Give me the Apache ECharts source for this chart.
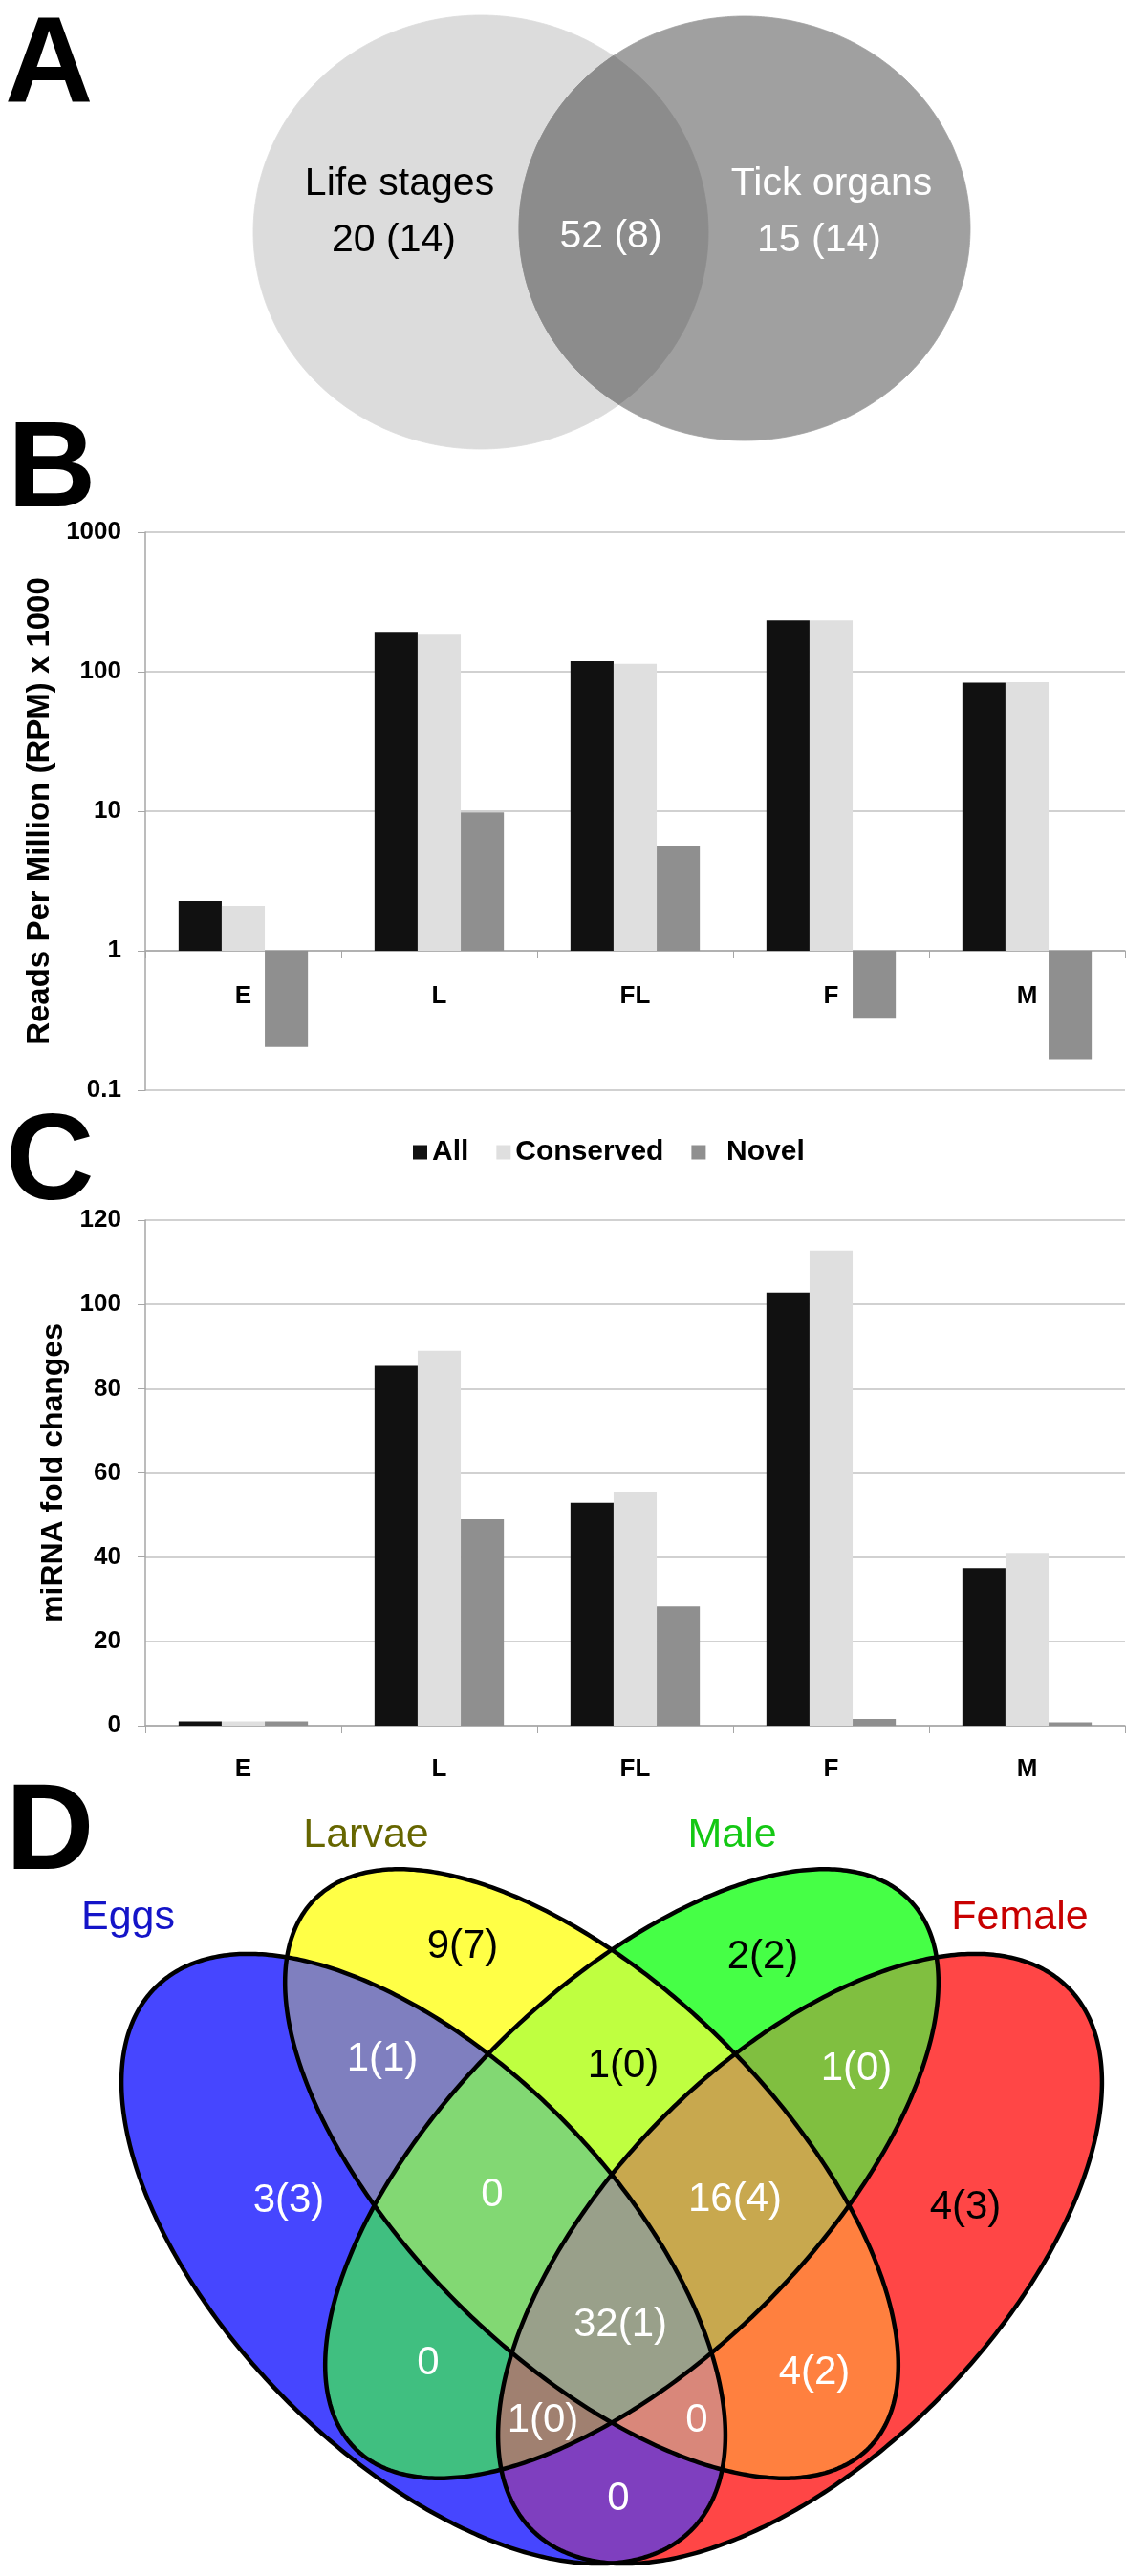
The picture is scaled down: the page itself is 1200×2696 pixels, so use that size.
<!DOCTYPE html>
<html><head><meta charset="utf-8">
<script src="https://cdn.jsdelivr.net/npm/echarts@6/dist/echarts.min.js"></script>
<style>html,body{margin:0;padding:0;background:#fff}#c{width:1200px;height:2696px}</style>
</head><body><div id="c"></div>
<script>
const FONT = '"Liberation Sans", Arial, Helvetica, sans-serif';

// ---------- Panel B / C data ----------
const stages = ['E', 'L', 'FL', 'F', 'M'];
const seriesNames = ['All', 'Conserved', 'Novel'];
const rpmAll = [2.27, 193, 119, 233, 83.5];
const rpmConserved = [2.10, 184, 114, 233, 84];
const rpmNovel = [0.204, 9.8, 5.67, 0.33, 0.167];
const foldAll = [1, 85.4, 52.9, 102.8, 37.4];
const foldConserved = [1, 89, 55.4, 112.8, 41];
const foldNovel = [1, 49, 28.3, 1.6, 0.8];
const rpmRange = [0.1, 1000];
const foldRange = [0, 120];
const foldStep = 20;

// ---------- Panel A (2-set Venn) ----------
// ellipses: [cx, cy, rx, ry, angleDeg] in venn units
const vennAEllipses = [[5.03, 2.57, 2.38, 2.27, 0], [7.79, 2.61, 2.36, 2.22, 0]];
const vennATexts = ['Life stages', '20 (14)', '52 (8)', 'Tick organs', '15 (14)'];
const vennATextX = [4.18, 4.12, 6.39, 8.70, 8.57];
const vennATextY = [3.07, 2.48, 2.52, 3.07, 2.48];

// ---------- Panel D (4-set Venn) ----------
const vennDSets = ['Eggs', 'Larvae', 'Male', 'Female'];
const vennDSetX = [1.34, 3.83, 7.66, 10.67];
const vennDSetY = [6.89, 7.75, 7.75, 6.89];
// ellipses: [cx, cy, semi-major, semi-minor, angleDeg]
const vennDEllipses = [
  [4.43, 3.32, 3.99, 2.06, 134.5],
  [6.19, 4.21, 4.08, 1.95, 135.3],
  [6.61, 4.21, 4.08, 1.95, 44.7],
  [8.37, 3.32, 3.99, 2.06, 45.5]
];
// regions indexed by membership mask - 1 (bit0 Eggs, bit1 Larvae, bit2 Male, bit3 Female)
const vennDCounts = ['3(3)', '9(7)', '1(1)', '2(2)', '0', '1(0)', '0', '4(3)', '0', '4(2)', '0', '1(0)', '1(0)', '16(4)', '32(1)'];
const vennDCountX = [3.02, 4.84, 4.00, 7.98, 4.48, 6.52, 5.15, 10.10, 6.47, 8.52, 7.29, 8.96, 5.68, 7.69, 6.49];
const vennDCountY = [3.93, 6.59, 5.41, 6.48, 2.23, 5.34, 3.99, 3.86, 0.81, 2.13, 1.63, 5.31, 1.63, 3.94, 2.63];

// ---------- styles ----------
const barColors = ['#111111', '#dfdfdf', '#8f8f8f'];
const vennAFill = ['#dcdcdc', '#a0a0a0', '#8c8c8c'];
const vennATextColor = ['#000', '#000', '#fff', '#fff', '#fff'];
const vennDSetColors = ['#1414c8', '#666600', '#14c814', '#c80000'];
const vennDFill = ['#4646ff', '#ffff46', '#7f7fbf', '#46ff46', '#40bf80', '#bfff40', '#82d873',
  '#ff4646', '#7f3fbf', '#ff803f', '#d9877a', '#80bf40', '#a08070', '#c8a84e', '#99a08a'];
const vennDTextColor = ['#fff', '#000', '#fff', '#000', '#fff', '#000', '#fff', '#000',
  '#fff', '#fff', '#fff', '#fff', '#fff', '#fff', '#fff'];

// ---------- geometry helpers ----------
function ellipsePts(e, n) {
  const th = e[4] * Math.PI / 180, c = Math.cos(th), s = Math.sin(th);
  const pts = [];
  for (let i = 0; i < n; i++) {
    const t = 2 * Math.PI * i / n;
    const x = e[2] * Math.cos(t), y = e[3] * Math.sin(t);
    pts.push([e[0] + x * c - y * s, e[1] + x * s + y * c]);
  }
  return pts;
}
function clipConvex(subject, clipPoly) {
  let out = subject;
  for (let i = 0; i < clipPoly.length && out.length; i++) {
    const A = clipPoly[i], B = clipPoly[(i + 1) % clipPoly.length];
    const inp = out; out = [];
    const side = p => (B[0] - A[0]) * (p[1] - A[1]) - (B[1] - A[1]) * (p[0] - A[0]);
    for (let j = 0; j < inp.length; j++) {
      const P = inp[j], Q = inp[(j + 1) % inp.length];
      const sp = side(P), sq = side(Q);
      if (sp >= 0) out.push(P);
      if ((sp >= 0) !== (sq >= 0)) {
        const t = sp / (sp - sq);
        out.push([P[0] + t * (Q[0] - P[0]), P[1] + t * (Q[1] - P[1])]);
      }
    }
  }
  return out;
}
function intersectionOf(ellPolys, mask) {
  let poly = null;
  ellPolys.forEach((p, i) => {
    if (mask & (1 << i)) poly = poly ? clipConvex(poly, p) : p;
  });
  return poly || [];
}
function bitCount(m) { let c = 0; while (m) { c += m & 1; m >>= 1; } return c; }

const N = 480;
const aPolys = vennAEllipses.map(e => ellipsePts(e, N));
const aRegionMasks = [1, 2, 3];
const aRegionPolys = aRegionMasks.map(m => intersectionOf(aPolys, m));

const dPolys = vennDEllipses.map(e => ellipsePts(e, N));
const dMasks = [];
for (let m = 1; m < 16; m++) dMasks.push(m);
dMasks.sort((a, b) => bitCount(a) - bitCount(b) || a - b);
const dRegionPolys = {};
dMasks.forEach(m => { dRegionPolys[m] = intersectionOf(dPolys, m); });

// ---------- chart ----------
const chart = echarts.init(document.getElementById('c'), null, { renderer: 'canvas', width: 1200, height: 2696 });

const axisGray = '#a6a6a6';
const gridGray = '#c2c2c2';
const tickFont = { fontFamily: FONT, fontWeight: 'bold', fontSize: 26, color: '#000' };

function barSeries(name, data, color, idx) {
  return {
    type: 'bar', name, data, xAxisIndex: idx, yAxisIndex: idx,
    barGap: '0%', barCategoryGap: '34%', itemStyle: { color }, animation: false
  };
}

const option = {
  animation: false,
  backgroundColor: '#fff',
  textStyle: { fontFamily: FONT },
  grid: [
    { left: 0, top: 0, width: 1200, height: 500, containLabel: false, outerBoundsMode: 'none' },
    { left: 152, top: 557, width: 1025, height: 584, containLabel: false, outerBoundsMode: 'none' },
    { left: 152, top: 1277, width: 1025, height: 529, containLabel: false, outerBoundsMode: 'none' },
    { left: 0, top: 1880, width: 1200, height: 816, containLabel: false, outerBoundsMode: 'none' }
  ],
  legend: {
    data: seriesNames,
    left: 432, top: 1191, padding: 0,
    itemWidth: 15, itemHeight: 15, itemGap: 29, icon: 'rect',
    formatter: n => (n === 'Novel' ? '  ' + n : n),
    textStyle: { fontFamily: FONT, fontWeight: 'bold', fontSize: 30, color: '#000' }
  },
  xAxis: [
    { type: 'value', gridIndex: 0, min: 0, max: 12, show: false },
    {
      type: 'category', gridIndex: 1, data: stages, position: 'bottom', offset: -146,
      axisLine: { show: true, lineStyle: { color: axisGray, width: 1.5 } },
      axisTick: { show: true, length: 8, lineStyle: { color: axisGray } },
      axisLabel: Object.assign({ margin: 35 }, tickFont),
      splitLine: { show: false }
    },
    {
      type: 'category', gridIndex: 2, data: stages, position: 'bottom',
      axisLine: { show: true, lineStyle: { color: axisGray, width: 1.5 } },
      axisTick: { show: true, length: 8, lineStyle: { color: axisGray } },
      axisLabel: Object.assign({ margin: 33 }, tickFont),
      splitLine: { show: false }
    },
    { type: 'value', gridIndex: 3, min: 0, max: 12, show: false }
  ],
  yAxis: [
    { type: 'value', gridIndex: 0, min: 0, max: 5, show: false },
    {
      type: 'log', logBase: 10, gridIndex: 1, min: rpmRange[0], max: rpmRange[1],
      name: 'Reads Per Million (RPM) x 1000', nameLocation: 'middle', nameGap: 92,
      nameTextStyle: { fontFamily: FONT, fontWeight: 'bold', fontSize: 33, color: '#000' },
      axisLine: { show: true, lineStyle: { color: axisGray, width: 1.5 } },
      axisTick: { show: true, length: 8, lineStyle: { color: axisGray } },
      axisLabel: Object.assign({ margin: 25, formatter: v => String(+(+v).toPrecision(4)) }, tickFont),
      splitLine: { show: true, lineStyle: { color: gridGray, width: 1.5 } }
    },
    {
      type: 'value', gridIndex: 2, min: foldRange[0], max: foldRange[1], interval: foldStep,
      name: 'miRNA fold changes', nameLocation: 'middle', nameGap: 80,
      nameTextStyle: { fontFamily: FONT, fontWeight: 'bold', fontSize: 32, color: '#000' },
      axisLine: { show: true, lineStyle: { color: axisGray, width: 1.5 } },
      axisTick: { show: true, length: 8, lineStyle: { color: axisGray } },
      axisLabel: Object.assign({ margin: 25 }, tickFont),
      splitLine: { show: true, lineStyle: { color: gridGray, width: 1.5 } }
    },
    { type: 'value', gridIndex: 3, min: 0, max: 8.16, show: false }
  ],
  graphic: [
    { type: 'text', x: 5, y: 72, style: { text: 'A', font: 'bold 128px ' + FONT, fill: '#000', align: 'left', verticalAlign: 'middle' } },
    { type: 'text', x: 8, y: 495, style: { text: 'B', font: 'bold 128px ' + FONT, fill: '#000', align: 'left', verticalAlign: 'middle' } },
    { type: 'text', x: 6, y: 1220, style: { text: 'C', font: 'bold 128px ' + FONT, fill: '#000', align: 'left', verticalAlign: 'middle' } },
    { type: 'text', x: 6, y: 1921, style: { text: 'D', font: 'bold 128px ' + FONT, fill: '#000', align: 'left', verticalAlign: 'middle' } }
  ],
  series: [
    // Panel A regions
    {
      type: 'custom', name: 'vennA', xAxisIndex: 0, yAxisIndex: 0, silent: true,
      data: aRegionMasks.map((m, i) => [i]),
      renderItem: (params, api) => {
        const i = api.value(0);
        const pts = aRegionPolys[i].map(p => api.coord(p));
        return { type: 'polygon', shape: { points: pts }, style: { fill: vennAFill[i], stroke: vennAFill[i], lineWidth: 0.8 } };
      }
    },
    {
      type: 'custom', name: 'vennAText', xAxisIndex: 0, yAxisIndex: 0, silent: true,
      data: vennATexts.map((t, i) => [vennATextX[i], vennATextY[i], i]),
      renderItem: (params, api) => {
        const p = api.coord([api.value(0), api.value(1)]);
        const i = api.value(2);
        return { type: 'text', x: p[0], y: p[1], style: { text: vennATexts[i], font: '41px ' + FONT, fill: vennATextColor[i], align: 'center', verticalAlign: 'middle' } };
      }
    },
    // Panel B
    barSeries('All', rpmAll, barColors[0], 1),
    barSeries('Conserved', rpmConserved, barColors[1], 1),
    barSeries('Novel', rpmNovel, barColors[2], 1),
    // Panel C
    barSeries('All', foldAll, barColors[0], 2),
    barSeries('Conserved', foldConserved, barColors[1], 2),
    barSeries('Novel', foldNovel, barColors[2], 2),
    // Panel D regions (painted by increasing overlap order)
    {
      type: 'custom', name: 'vennD', xAxisIndex: 3, yAxisIndex: 3, silent: true,
      data: dMasks.map(m => [m]),
      renderItem: (params, api) => {
        const m = api.value(0);
        const pts = dRegionPolys[m].map(p => api.coord(p));
        return { type: 'polygon', shape: { points: pts }, style: { fill: vennDFill[m - 1], stroke: vennDFill[m - 1], lineWidth: 0.8 } };
      }
    },
    {
      type: 'custom', name: 'vennDOutline', xAxisIndex: 3, yAxisIndex: 3, silent: true,
      data: vennDEllipses.map((e, i) => [i]),
      renderItem: (params, api) => {
        const i = api.value(0);
        const pts = dPolys[i].map(p => api.coord(p));
        return { type: 'polygon', shape: { points: pts }, style: { fill: 'none', stroke: '#000', lineWidth: 4.5 } };
      }
    },
    {
      type: 'custom', name: 'vennDText', xAxisIndex: 3, yAxisIndex: 3, silent: true,
      data: vennDCounts.map((t, i) => [vennDCountX[i], vennDCountY[i], i]),
      renderItem: (params, api) => {
        const p = api.coord([api.value(0), api.value(1)]);
        const i = api.value(2);
        return { type: 'text', x: p[0], y: p[1], style: { text: vennDCounts[i], font: '42px ' + FONT, fill: vennDTextColor[i], align: 'center', verticalAlign: 'middle' } };
      }
    },
    {
      type: 'custom', name: 'vennDSets', xAxisIndex: 3, yAxisIndex: 3, silent: true,
      data: vennDSets.map((t, i) => [vennDSetX[i], vennDSetY[i], i]),
      renderItem: (params, api) => {
        const p = api.coord([api.value(0), api.value(1)]);
        const i = api.value(2);
        return { type: 'text', x: p[0], y: p[1], style: { text: vennDSets[i], font: '43px ' + FONT, fill: vennDSetColors[i], align: 'center', verticalAlign: 'middle' } };
      }
    }
  ]
};
chart.setOption(option);
</script>
</body></html>
